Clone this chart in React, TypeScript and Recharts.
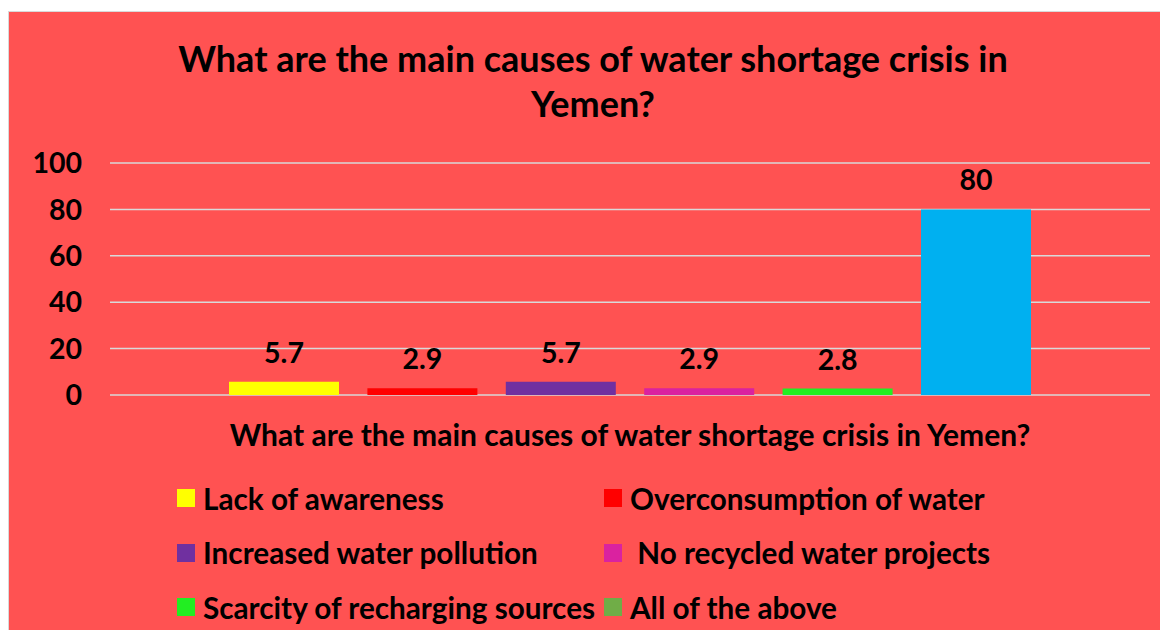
import { BarChart, Bar, XAxis, YAxis, CartesianGrid, LabelList, Label } from "recharts";

const CATEGORY = "What are the main causes of water shortage crisis in Yemen?";
const SERIES_NAMES = [
  "Lack of awareness",
  "Overconsumption of water",
  "Increased water pollution",
  " No recycled water projects",
  "Scarcity of recharging sources",
  "All of the above",
];
const SERIES_VALUES = [5.7, 2.9, 5.7, 2.9, 2.8, 80];
const BAR_COLORS = ["#FFFF00", "#FF0000", "#7030A0", "#DA22A0", "#22EE22", "#00B0F0"];
// legend swatch of the last entry differs from its bar in the original
const LEGEND_COLORS = ["#FFFF00", "#FF0000", "#7030A0", "#DA22A0", "#22EE22", "#70AD47"];
const Y_TICKS = [0, 20, 40, 60, 80, 100];

const FONT = "Lato, 'Open Sans', sans-serif";
const BG = "#FF5252";

const row: Record<string, string | number> = { name: CATEGORY };
SERIES_VALUES.forEach((v, i) => {
  row[`s${i}`] = v;
});
const data = [row];

export default function App() {
  return (
    <div style={{ position: "relative", width: 1168, height: 638, margin: -8, background: "#fff", overflow: "hidden", fontFamily: FONT }}>
      <div
        style={{
          position: "absolute",
          left: 8,
          top: 11,
          width: 1170,
          height: 640,
          border: "1px solid #D9D9D9",
          background: BG,
        }}
      >
        <div
          style={{
            position: "absolute",
            left: 0,
            top: 24,
            width: 1168,
            textAlign: "center",
            fontWeight: 700,
            fontSize: 36,
            lineHeight: "45px",
            color: "#000",
          }}
        >
          <div>What are the main causes of water shortage crisis in</div>
          <div>Yemen?</div>
        </div>

        <div style={{ position: "absolute", left: 0, top: 0 }}>
          <BarChart
            width={1159}
            height={627}
            data={data}
            barSize={110}
            barGap={28.4}
            margin={{ top: 151, right: 18, bottom: 214, left: 0 }}
          >
            <CartesianGrid vertical={false} stroke="#D9D9D9" strokeWidth={1.5} />
            <XAxis dataKey="name" tick={false} tickLine={false} axisLine={false} height={30}>
              <Label
                value={CATEGORY}
                position="bottom"
                offset={0}
                style={{ fontFamily: FONT, fontWeight: 700, fontSize: 30, fill: "#000" }}
              />
            </XAxis>
            <YAxis
              width={101}
              domain={[0, 100]}
              ticks={Y_TICKS}
              axisLine={false}
              tickLine={false}
              tickMargin={22}
              tick={{ fontFamily: FONT, fontWeight: 700, fontSize: 28.5, fill: "#000" }}
            />
            {SERIES_VALUES.map((_, i) => (
              <Bar key={i} dataKey={`s${i}`} name={SERIES_NAMES[i]} fill={BAR_COLORS[i]} isAnimationActive={false}>
                <LabelList
                  dataKey={`s${i}`}
                  position="top"
                  offset={19}
                  style={{ fontFamily: FONT, fontWeight: 700, fontSize: 28.5, fill: "#000" }}
                />
              </Bar>
            ))}
          </BarChart>
        </div>

        <div
          style={{
            position: "absolute",
            left: 168,
            top: 459,
            display: "grid",
            gridTemplateColumns: "427px 400px",
            fontWeight: 700,
            fontSize: 29.7,
            color: "#000",
          }}
        >
          {SERIES_NAMES.map((n, i) => (
            <div key={i} style={{ display: "flex", alignItems: "center", height: 54.5, whiteSpace: "pre" }}>
              <span
                style={{
                  display: "inline-block",
                  width: 18,
                  height: 18,
                  background: LEGEND_COLORS[i],
                  marginRight: 8,
                }}
              />
              <span>{n}</span>
            </div>
          ))}
        </div>
      </div>
    </div>
  );
}
